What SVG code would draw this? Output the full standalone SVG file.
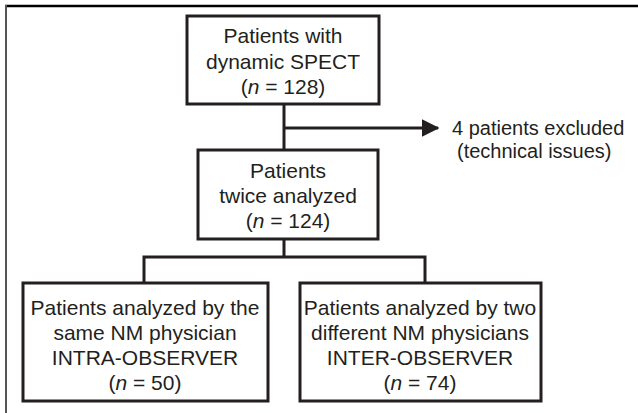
<svg xmlns="http://www.w3.org/2000/svg" width="638" height="413" viewBox="0 0 638 413">
  <style>
    .box { fill: #ffffff; stroke: #231f20; stroke-width: 3; }
    .wire { fill: none; stroke: #231f20; stroke-width: 3; }
    text { font-family: "Liberation Sans", Arial, sans-serif; font-size: 21px; fill: #231f20; text-anchor: middle; }
    .side { text-anchor: start; font-size: 20px; }
  </style>
  <defs>
    <marker id="head" markerWidth="6" markerHeight="6" refX="5.5" refY="3" orient="auto" markerUnits="strokeWidth">
      <path d="M0,0 L6,3 L0,6 Z" fill="#231f20"/>
    </marker>
  </defs>
  <rect width="638" height="413" fill="#ffffff"/>
  <!-- frame -->
  <line x1="5" y1="6" x2="638" y2="6" stroke="#000000" stroke-width="2.5"/>
  <line x1="6" y1="5" x2="6" y2="413" stroke="#555555" stroke-width="2"/>

  <g id="connectors">
    <line class="wire" x1="284" y1="104" x2="284" y2="150"/>
    <line class="wire" x1="284" y1="128" x2="438" y2="128" marker-end="url(#head)"/>
    <line class="wire" x1="284" y1="239" x2="284" y2="257"/>
    <polyline class="wire" points="144,283 144,257 425,257 425,283"/>
  </g>

  <g id="node-all">
    <rect class="box" x="187" y="16" width="192" height="88"/>
    <text x="283" y="43">Patients with</text>
    <text x="283" y="69">dynamic SPECT</text>
    <text x="283" y="94">(<tspan font-style="italic">n</tspan> = 128)</text>
  </g>

  <g id="node-excluded">
    <text class="side" x="452" y="135">4 patients excluded</text>
    <text class="side" x="457" y="158">(technical issues)</text>
  </g>

  <g id="node-analyzed">
    <rect class="box" x="198" y="150" width="180" height="89"/>
    <text x="288" y="178">Patients</text>
    <text x="288" y="203">twice analyzed</text>
    <text x="288" y="228">(<tspan font-style="italic">n</tspan> = 124)</text>
  </g>

  <g id="node-intra">
    <rect class="box" x="23" y="283" width="245" height="118"/>
    <text x="145" y="315">Patients analyzed by the</text>
    <text x="145" y="340">same NM physician</text>
    <text x="145" y="365">INTRA-OBSERVER</text>
    <text x="145" y="390">(<tspan font-style="italic">n</tspan> = 50)</text>
  </g>

  <g id="node-inter">
    <rect class="box" x="300" y="283" width="241" height="118"/>
    <text x="420" y="315">Patients analyzed by two</text>
    <text x="420" y="340">different NM physicians</text>
    <text x="420" y="365">INTER-OBSERVER</text>
    <text x="420" y="390">(<tspan font-style="italic">n</tspan> = 74)</text>
  </g>
</svg>
